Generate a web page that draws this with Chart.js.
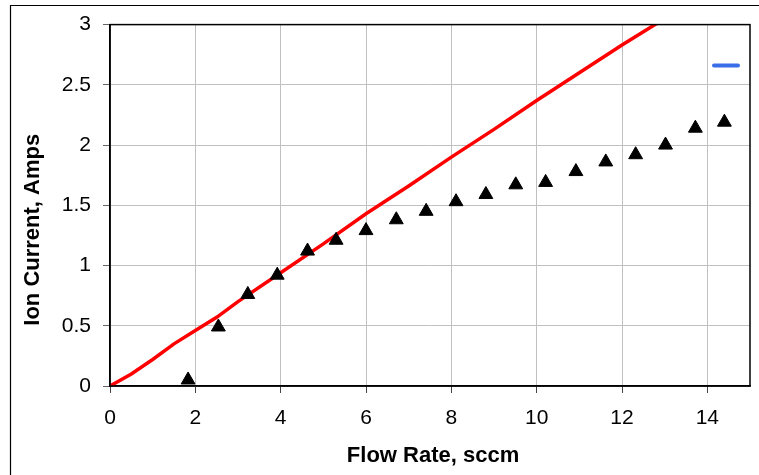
<!DOCTYPE html>
<html>
<head>
<meta charset="utf-8">
<script src="https://cdn.jsdelivr.net/npm/chart.js@4.4.0/dist/chart.umd.min.js"></script>
<style>
  html, body { margin: 0; padding: 0; background: #ffffff; }
  #wrap { width: 759px; height: 475px; position: relative; }
</style>
</head>
<body>
<div id="wrap"><canvas id="c" width="759" height="475"></canvas></div>
<script>
// Measured data (Ion current vs flow rate)
const flowRate   = [1.83, 2.54, 3.23, 3.92, 4.63, 5.30, 6.00, 6.71, 7.41, 8.11, 8.81, 9.51, 10.21, 10.92, 11.62, 12.32, 13.02, 13.72, 14.40];
const ionCurrent = [0.05, 0.49, 0.76, 0.92, 1.12, 1.21, 1.29, 1.38, 1.45, 1.53, 1.59, 1.67, 1.69, 1.78, 1.86, 1.92, 2.00, 2.14, 2.19];

// Red reference line
const lineX = [0, 0.5, 1, 1.5, 2, 2.5, 3, 4, 5, 6, 7, 8, 9, 10, 11, 12, 13];
const lineY = [0, 0.10, 0.22, 0.35, 0.46, 0.57, 0.70, 0.94, 1.18, 1.43, 1.66, 1.90, 2.13, 2.37, 2.60, 2.83, 3.05];

const xTitle = "Flow Rate, sccm";
const yTitle = "Ion Current, Amps";

const framePlugin = {
  id: 'frame',
  afterDraw(chart) {
    const ctx = chart.ctx;
    const a = chart.chartArea;
    ctx.save();
    // outer frame (left + top)
    ctx.strokeStyle = '#000';
    ctx.lineWidth = 1.2;
    ctx.beginPath();
    ctx.moveTo(10.5, 475);
    ctx.lineTo(10.5, 5.5);
    ctx.lineTo(759, 5.5);
    ctx.stroke();
    // plot area border
    ctx.lineWidth = 1.5;
    ctx.strokeRect(a.left, a.top, a.right - a.left, a.bottom - a.top);
    // legend marker (blue line, no label)
    ctx.strokeStyle = '#3a6ee8';
    ctx.lineWidth = 4;
    ctx.lineCap = 'round';
    ctx.beginPath();
    ctx.moveTo(a.right - 36, a.top + 41);
    ctx.lineTo(a.right - 12, a.top + 41);
    ctx.stroke();
    ctx.restore();
  }
};

const tickFont = { family: 'Liberation Sans, Arial, sans-serif', size: 21 };
const titleFont = { family: 'Liberation Sans, Arial, sans-serif', size: 22, weight: 'bold' };

new Chart(document.getElementById('c'), {
  type: 'scatter',
  data: {
    datasets: [
      {
        label: 'Line',
        data: lineX.map((x, i) => ({ x: x, y: lineY[i] })),
        showLine: true,
        borderColor: '#ff0000',
        borderWidth: 3.5,
        pointRadius: 0,
        tension: 0,
        order: 2
      },
      {
        label: 'Measured',
        data: flowRate.map((x, i) => ({ x: x, y: ionCurrent[i] })),
        pointStyle: 'triangle',
        pointRadius: 8,
        backgroundColor: '#000',
        borderColor: '#000',
        borderWidth: 1,
        order: 1
      }
    ]
  },
  plugins: [framePlugin],
  options: {
    responsive: false,
    animation: false,
    layout: { padding: { left: 0, right: 9, top: 23, bottom: 0 } },
    plugins: {
      legend: { display: false },
      tooltip: { enabled: false }
    },
    scales: {
      x: {
        type: 'linear',
        min: 0,
        max: 15,
        afterFit(scale) { scale.height = 89; },
        ticks: {
          stepSize: 2,
          includeBounds: false,
          color: '#000',
          font: tickFont,
          padding: 13,
          maxRotation: 0,
          callback: (v) => String(+Number(v).toFixed(1))
        },
        grid: { color: '#c0c0c0', lineWidth: 1, tickLength: 7, tickColor: '#444' },
        border: { color: '#000', width: 1.5 },
        title: {
          display: true,
          text: ' ' + xTitle,
          color: '#000',
          font: titleFont,
          padding: { top: 0, bottom: 6 }
        }
      },
      y: {
        type: 'linear',
        min: 0,
        max: 3,
        afterFit(scale) { scale.width = 110; },
        ticks: {
          stepSize: 0.5,
          color: '#000',
          font: tickFont,
          padding: 12,
          callback: (v) => String(+Number(v).toFixed(1))
        },
        grid: { color: '#c0c0c0', lineWidth: 1, tickLength: 7, tickColor: '#666' },
        border: { color: '#000', width: 1.5 },
        title: {
          display: true,
          text: yTitle + '        ',
          color: '#000',
          font: titleFont,
          padding: { top: 20, bottom: 0 }
        }
      }
    }
  }
});
</script>
</body>
</html>
